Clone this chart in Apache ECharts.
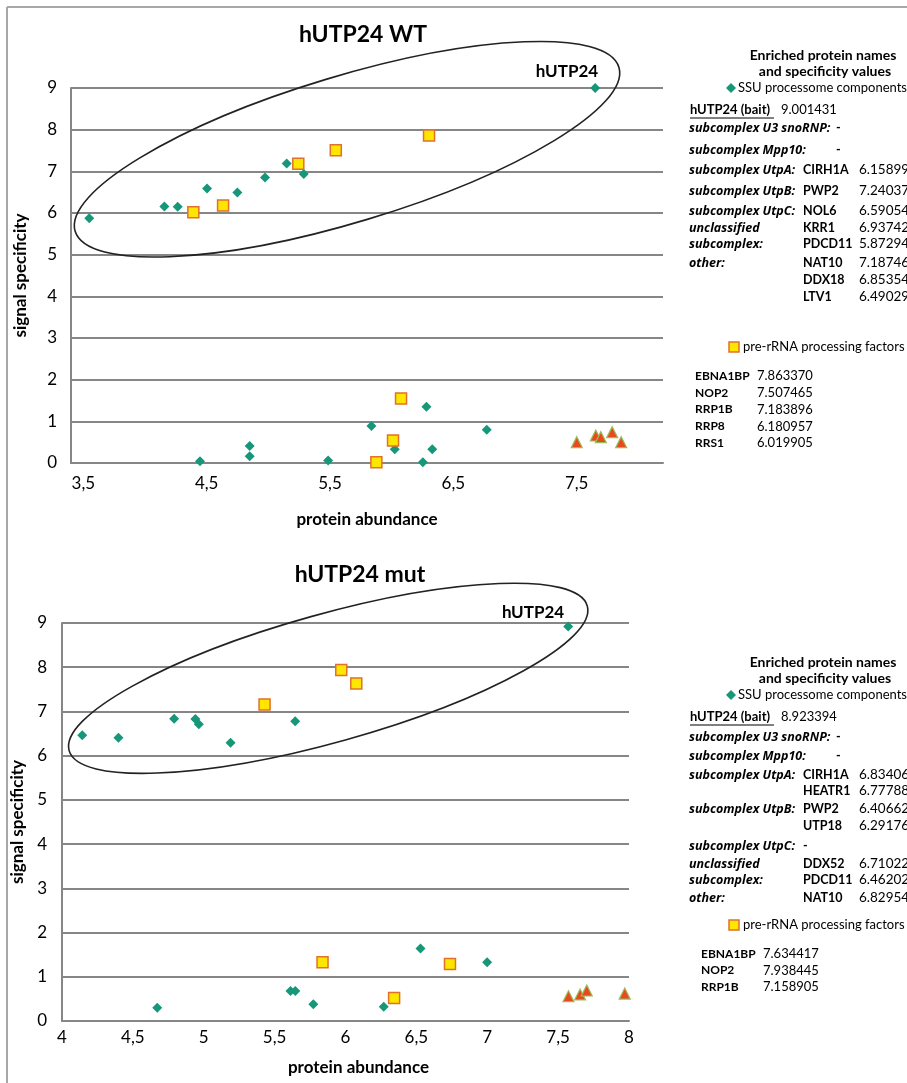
<!DOCTYPE html>
<html>
<head>
<meta charset="utf-8">
<script src="https://cdn.jsdelivr.net/npm/echarts@6/dist/echarts.min.js"></script>
<style>
  html, body { margin: 0; padding: 0; background: #fff; }
  #chart { width: 907px; height: 1083px; }
</style>
</head>
<body>
<div id="chart"></div>
<script>
// ---- data ----
// hUTP24 WT
const wtSsuX = [3.548, 4.157, 4.265, 4.503, 4.749, 4.973, 5.149, 5.287, 4.446, 4.849, 4.849, 5.485, 5.836, 6.025, 6.282, 6.253, 6.329, 6.771];
const wtSsuY = [5.873, 6.159, 6.150, 6.591, 6.490, 6.854, 7.187, 6.937, 0.04, 0.16, 0.41, 0.06, 0.89, 0.33, 1.35, 0.02, 0.33, 0.80];
const wtBait = [7.650, 9.001431];
const wtPreX = [4.392, 4.633, 5.243, 5.547, 6.303, 6.076, 6.011, 5.876];
const wtPreY = [6.020, 6.181, 7.184, 7.507, 7.863, 1.55, 0.54, 0.02];
const wtOtherX = [7.501, 7.655, 7.696, 7.788, 7.861];
const wtOtherY = [0.50, 0.66, 0.62, 0.74, 0.50];

// hUTP24 mut
const mutSsuX = [4.143, 4.398, 4.791, 4.941, 4.965, 5.189, 5.645, 4.672, 5.612, 5.646, 5.773, 6.270, 6.529, 6.999];
const mutSsuY = [6.462, 6.407, 6.834, 6.830, 6.710, 6.292, 6.778, 0.30, 0.68, 0.68, 0.38, 0.32, 1.64, 1.33];
const mutBait = [7.571, 8.923394];
const mutPreX = [5.429, 5.970, 6.076, 5.838, 6.343, 6.737];
const mutPreY = [7.159, 7.938, 7.634, 1.33, 0.52, 1.29];
const mutOtherX = [7.573, 7.655, 7.702, 7.970];
const mutOtherY = [0.56, 0.60, 0.69, 0.62];

// axes
const wtXTicks = [3.5, 4.5, 5.5, 6.5, 7.5];

// side panel text
const wtBaitValue = '9.001431';
const wtRows = [
  ['subcomplex U3 snoRNP:', '-', ''],
  ['subcomplex Mpp10:', '-', ''],
  ['subcomplex UtpA:', 'CIRH1A', '6.158995'],
  ['subcomplex UtpB:', 'PWP2', '7.240374'],
  ['subcomplex UtpC:', 'NOL6', '6.590541'],
  ['unclassified', 'KRR1', '6.937428'],
  ['subcomplex:', 'PDCD11', '5.872948'],
  ['other:', 'NAT10', '7.187464'],
  ['', 'DDX18', '6.853540'],
  ['', 'LTV1', '6.490290']
];
const wtPreRows = [
  ['EBNA1BP', '7.863370'],
  ['NOP2', '7.507465'],
  ['RRP1B', '7.183896'],
  ['RRP8', '6.180957'],
  ['RRS1', '6.019905']
];
const mutBaitValue = '8.923394';
const mutRows = [
  ['subcomplex U3 snoRNP:', '-', ''],
  ['subcomplex Mpp10:', '-', ''],
  ['subcomplex UtpA:', 'CIRH1A', '6.834064'],
  ['', 'HEATR1', '6.777883'],
  ['subcomplex UtpB:', 'PWP2', '6.406625'],
  ['', 'UTP18', '6.291768'],
  ['subcomplex UtpC:', '-', ''],
  ['unclassified', 'DDX52', '6.710227'],
  ['subcomplex:', 'PDCD11', '6.462023'],
  ['other:', 'NAT10', '6.829548']
];
const mutPreRows = [
  ['EBNA1BP', '7.634417'],
  ['NOP2', '7.938445'],
  ['RRP1B', '7.158905']
];
// labels whose dash sits after the label, not in the name column
const dashAfter = ['subcomplex U3 snoRNP:', 'subcomplex Mpp10:'];

// ---- styles ----
const FONT = 'Lato, "Open Sans", sans-serif';
const ITALIC_FONT = '"Open Sans", Lato, sans-serif';
const gridColor = '#868686';
const ssuColor = '#17977a';
const preFill = '#ffe600';
const preBorder = '#e0702a';
const otherFill = '#e64a1e';
const otherBorder = '#9bbb59';

function pairs(xs, ys) {
  return xs.map((x, i) => [x, ys[i]]);
}
function commaLabel(v) {
  return String(v).replace('.', ',');
}

const chart = echarts.init(document.getElementById('chart'));

function yAxisFor(gridIndex, nameGap, margin) {
  return {
    gridIndex: gridIndex,
    type: 'value',
    min: 0,
    max: 9,
    interval: 1,
    name: 'signal specificity',
    nameLocation: 'middle',
    nameGap: nameGap,
    nameTextStyle: { fontFamily: FONT, fontWeight: 'bold', fontSize: 17, color: '#000' },
    axisLine: { show: true, lineStyle: { color: gridColor, width: 2 } },
    axisTick: { show: false },
    axisLabel: { fontFamily: FONT, fontSize: 17, color: '#000', margin: margin },
    splitLine: { show: true, lineStyle: { color: gridColor, width: 2 } }
  };
}

function scatter(name, xi, data, symbol, size, fill, border, bw) {
  return {
    name: name,
    type: 'scatter',
    xAxisIndex: xi,
    yAxisIndex: xi,
    symbol: symbol,
    symbolSize: size,
    itemStyle: { color: fill, borderColor: border, borderWidth: bw, opacity: 1 },
    data: data,
    z: 3
  };
}

function baitSeries(xi, point, offset) {
  return {
    name: 'bait',
    type: 'scatter',
    xAxisIndex: xi,
    yAxisIndex: xi,
    symbol: 'diamond',
    symbolSize: 10,
    itemStyle: { color: ssuColor, opacity: 1 },
    label: {
      show: true,
      formatter: 'hUTP24',
      position: 'top',
      align: 'right',
      offset: offset,
      fontFamily: FONT,
      fontWeight: 'bold',
      fontSize: 17,
      color: '#000',
      opacity: 1
    },
    data: [point],
    z: 4
  };
}

let option = {
  backgroundColor: '#fff',
  animation: false,
  title: [
    {
      text: 'hUTP24 WT',
      left: 358, top: 18, textAlign: 'center',
      textStyle: { fontFamily: FONT, fontWeight: 'bold', fontSize: 23, color: '#000' }
    },
    {
      text: 'hUTP24 mut',
      left: 355, top: 558, textAlign: 'center',
      textStyle: { fontFamily: FONT, fontWeight: 'bold', fontSize: 23, color: '#000' }
    }
  ],
  grid: [
    { left: 71, top: 88, width: 592, height: 375 },
    { left: 62, top: 623, width: 567, height: 398 }
  ],
  xAxis: [
    {
      gridIndex: 0,
      type: 'value',
      min: 3.4,
      max: 8.2,
      name: 'protein abundance',
      nameLocation: 'middle',
      nameGap: 48,
      nameTextStyle: { fontFamily: FONT, fontWeight: 'bold', fontSize: 17, color: '#000' },
      axisLine: { show: true, lineStyle: { color: gridColor, width: 2 } },
      axisTick: { show: false },
      axisLabel: {
        customValues: wtXTicks,
        formatter: commaLabel,
        fontFamily: FONT, fontSize: 17, color: '#000', margin: 12
      },
      splitLine: { show: false }
    },
    {
      gridIndex: 1,
      type: 'value',
      min: 4,
      max: 8,
      interval: 0.5,
      name: 'protein abundance',
      nameLocation: 'middle',
      nameGap: 38,
      nameTextStyle: { fontFamily: FONT, fontWeight: 'bold', fontSize: 17, color: '#000', padding: [0, 0, 0, 26] },
      axisLine: { show: true, lineStyle: { color: gridColor, width: 2 } },
      axisTick: { show: false },
      axisLabel: { formatter: commaLabel, fontFamily: FONT, fontSize: 17, color: '#000', margin: 8 },
      splitLine: { show: false }
    }
  ],
  yAxis: [yAxisFor(0, 42, 14), yAxisFor(1, 33, 15)],
  series: [
    scatter('SSU processome components', 0, pairs(wtSsuX, wtSsuY), 'diamond', 10, ssuColor, ssuColor, 0),
    baitSeries(0, wtBait, [3, 2]),
    scatter('pre-rRNA processing factors', 0, pairs(wtPreX, wtPreY), 'rect', 11, preFill, preBorder, 1.5),
    scatter('other', 0, pairs(wtOtherX, wtOtherY), 'triangle', 11, otherFill, otherBorder, 1.2),
    scatter('SSU processome components', 1, pairs(mutSsuX, mutSsuY), 'diamond', 10, ssuColor, ssuColor, 0),
    baitSeries(1, mutBait, [-4, 5]),
    scatter('pre-rRNA processing factors', 1, pairs(mutPreX, mutPreY), 'rect', 11, preFill, preBorder, 1.5),
    scatter('other', 1, pairs(mutOtherX, mutOtherY), 'triangle', 11, otherFill, otherBorder, 1.2)
  ]
};

chart.setOption(option);

// ---- annotations: ellipses, frame and side panels ----
function ellipseAt(gridIdx, dataCenter, rx, ry, deg) {
  const p = chart.convertToPixel({ gridIndex: gridIdx }, dataCenter);
  return {
    type: 'ellipse',
    x: p[0], y: p[1],
    rotation: deg * Math.PI / 180,
    shape: { cx: 0, cy: 0, rx: rx, ry: ry },
    style: { fill: null, stroke: '#222', lineWidth: 1.6 },
    z: 10
  };
}

function txt(x, y, s, opts) {
  opts = opts || {};
  return {
    type: 'text',
    x: x, y: y,
    style: {
      text: s,
      fontFamily: opts.font || FONT,
      fontSize: opts.size || 13,
      fontWeight: opts.bold ? 'bold' : 'normal',
      fontStyle: opts.italic ? 'italic' : 'normal',
      fill: '#000',
      align: opts.align || 'left',
      verticalAlign: 'middle'
    },
    z: 20
  };
}

function panel(top, baitValue, rows, rowYs, preTop, preRows, preX, valX, preStep) {
  const g = [];
  g.push(txt(823, top, 'Enriched protein names', { bold: true, size: 14, align: 'center' }));
  g.push(txt(825, top + 16, 'and specificity values', { bold: true, size: 14, align: 'center' }));
  // diamond key
  g.push({
    type: 'polygon', z: 20,
    shape: { points: [[731, top + 28], [736, top + 33], [731, top + 38], [726, top + 33]] },
    style: { fill: ssuColor }
  });
  g.push(txt(738, top + 33, 'SSU processome components', { size: 13 }));
  g.push(txt(690, top + 55, 'hUTP24 (bait)', { bold: true, size: 13 }));
  g.push({
    type: 'line', z: 20,
    shape: { x1: 690, y1: top + 63, x2: 774, y2: top + 63 },
    style: { stroke: '#000', lineWidth: 1 }
  });
  g.push(txt(781, top + 55, baitValue, { size: 13 }));
  rows.forEach((r, i) => {
    const y = top + rowYs[i];
    if (r[0]) g.push(txt(689, y, r[0], { bold: true, italic: true, size: 12.5, font: ITALIC_FONT }));
    if (r[1]) g.push(txt(dashAfter.indexOf(r[0]) >= 0 ? 836 : 803, y, r[1], { bold: true, size: 12.5 }));
    if (r[2]) g.push(txt(859, y, r[2], { size: 13.5 }));
  });
  // square key
  g.push({
    type: 'rect', z: 20,
    shape: { x: 729, y: preTop - 5, width: 10, height: 10 },
    style: { fill: preFill, stroke: preBorder, lineWidth: 1.5 }
  });
  g.push(txt(743, preTop, 'pre-rRNA processing factors', { size: 13 }));
  preRows.forEach((r, i) => {
    const y = preTop + 29 + i * preStep;
    g.push(txt(preX, y, r[0], { bold: true, size: 12 }));
    g.push(txt(valX, y, r[1], { size: 13 }));
  });
  return g;
}

const wtRowYs = [73, 95, 115, 136, 156, 173, 189, 208, 225, 242];
const mutRowYs = [75, 94, 113, 129, 147, 164, 184, 202, 218, 236];

const graphics = [
  // outer frame lines
  { type: 'line', shape: { x1: 7, y1: 7, x2: 907, y2: 7 }, style: { stroke: '#a8a8a8', lineWidth: 2 }, z: 1 },
  { type: 'line', shape: { x1: 7, y1: 7, x2: 7, y2: 1083 }, style: { stroke: '#a8a8a8', lineWidth: 2 }, z: 1 },
  ellipseAt(0, [5.638, 7.53], 284, 73, 16.8),
  ellipseAt(1, [5.878, 7.75], 269, 64, 15.6)
].concat(
  panel(55, wtBaitValue, wtRows, wtRowYs, 347, wtPreRows, 695, 757, 16.8),
  panel(662, mutBaitValue, mutRows, mutRowYs, 925, mutPreRows, 701, 763, 16.5)
);

chart.setOption({ graphic: graphics });
</script>
</body>
</html>
